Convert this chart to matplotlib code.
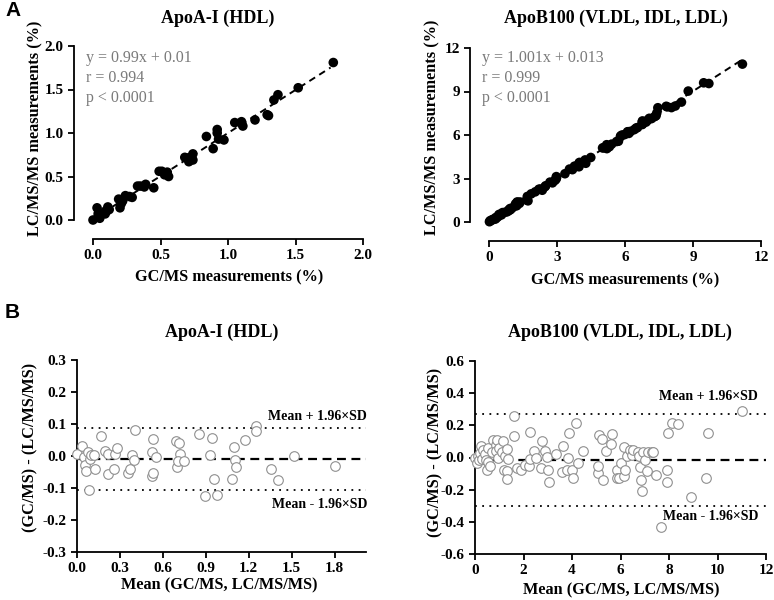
import matplotlib
matplotlib.use("Agg")
import matplotlib.pyplot as plt

plt.rcParams['font.family'] = ['Liberation Serif', 'DejaVu Serif']
plt.rcParams['axes.unicode_minus'] = False

W, H = 774, 600

# ---- Panel A, ApoA-I (HDL): GC/MS vs LC/MS/MS (%)
apoa_gc = [0.00, 0.05, 0.04, 0.04, 0.04, 0.09, 0.03, 0.09, 0.10, 0.12, 0.11, 0.20, 0.21,
           0.19, 0.22, 0.24, 0.27, 0.29, 0.33, 0.35, 0.38, 0.39, 0.45, 0.53, 0.56, 0.49,
           0.51, 0.55, 0.71, 0.68, 0.74, 0.72, 0.70, 0.74, 0.89, 0.84, 0.93, 0.97, 0.92,
           0.92, 1.05, 1.11, 1.10, 1.10, 1.20, 1.30, 1.29, 1.34, 1.37, 1.52, 1.78]
apoa_lc = [0.00, 0.02, 0.05, 0.07, 0.08, 0.07, 0.14, 0.10, 0.10, 0.12, 0.15, 0.14, 0.19,
           0.24, 0.22, 0.28, 0.27, 0.26, 0.39, 0.39, 0.38, 0.41, 0.37, 0.52, 0.50, 0.56,
           0.56, 0.55, 0.67, 0.72, 0.69, 0.72, 0.71, 0.76, 0.82, 0.96, 0.93, 0.92, 1.00,
           1.04, 1.12, 1.08, 1.11, 1.13, 1.15, 1.20, 1.21, 1.38, 1.44, 1.52, 1.81]

# ---- Panel B, ApoA-I: Bland-Altman mean / difference
apoa_mean = [0.00, 0.037, 0.046, 0.056, 0.060, 0.080, 0.086, 0.092, 0.098, 0.122, 0.126,
             0.166, 0.197, 0.215, 0.218, 0.262, 0.269, 0.277, 0.358, 0.367, 0.382, 0.400,
             0.405, 0.521, 0.530, 0.525, 0.533, 0.551, 0.689, 0.699, 0.714, 0.719, 0.705,
             0.751, 0.853, 0.898, 0.927, 0.944, 0.958, 0.982, 1.083, 1.095, 1.106, 1.112,
             1.176, 1.248, 1.250, 1.357, 1.405, 1.519, 1.800]
apoa_diff = [0.006, 0.032, -0.004, -0.028, -0.048, 0.013, -0.105, -0.010, 0.004, 0.003,
             -0.042, 0.062, 0.016, -0.055, 0.005, -0.041, 0.005, 0.026, -0.053, -0.041,
             0.003, -0.012, 0.081, 0.011, 0.052, -0.063, -0.053, -0.004, 0.047, -0.035,
             0.042, 0.005, -0.016, -0.016, 0.070, -0.125, 0.003, 0.057, -0.073, -0.121,
             -0.071, 0.029, -0.013, -0.034, 0.049, 0.095, 0.079, -0.041, -0.075, 0.000,
             -0.032]
apoa_limits = [0.088, -0.009, -0.105]   # upper, mean, lower

# ---- Panel A, ApoB100 (VLDL, IDL, LDL)
apob_gc = [0.02, 0.05, 0.11, 0.15, 0.22, 0.29, 0.30, 0.36, 0.42, 0.43, 0.44, 0.55, 0.54,
           0.60, 0.71, 0.81, 0.89, 0.87, 0.94, 0.93, 1.02, 1.15, 1.22, 1.17, 1.24, 1.34,
           1.27, 1.24, 1.37, 1.72, 1.66, 1.69, 1.86, 2.04, 2.20, 2.35, 2.26, 2.47, 2.50,
           2.69, 2.80, 2.91, 2.96, 2.98, 2.97, 3.35, 3.55, 3.68, 3.77, 3.82, 3.97, 3.97,
           3.99, 4.27, 4.24, 4.49, 5.01, 5.06, 5.20, 5.31, 5.19, 5.41, 5.63, 5.71, 5.80,
           5.81, 5.87, 5.99, 6.17, 6.11, 6.15, 6.25, 6.41, 6.49, 6.55, 6.76, 6.78, 6.77,
           6.76, 6.77, 6.93, 7.00, 7.07, 7.17, 7.31, 7.37, 7.40, 7.45, 7.86, 7.82, 8.05,
           8.22, 8.49, 8.79, 9.47, 9.70, 11.18]
apob_lc = [0.02, 0.09, 0.11, 0.17, 0.19, 0.21, 0.31, 0.32, 0.40, 0.45, 0.52, 0.49, 0.56,
           0.65, 0.67, 0.71, 0.81, 0.83, 0.84, 0.93, 0.96, 1.11, 1.12, 1.25, 1.24, 1.28,
           1.35, 1.38, 1.38, 1.46, 1.52, 1.76, 1.94, 2.08, 2.26, 2.19, 2.27, 2.43, 2.50,
           2.75, 2.70, 2.87, 2.96, 3.06, 3.13, 3.33, 3.65, 3.61, 3.85, 3.82, 3.81, 4.05,
           4.11, 4.05, 4.28, 4.45, 5.11, 5.12, 5.06, 5.19, 5.33, 5.37, 5.55, 5.57, 5.88,
           5.94, 6.00, 6.03, 6.11, 6.22, 6.23, 6.25, 6.37, 6.48, 6.51, 6.72, 6.77, 6.83,
           6.90, 6.97, 6.89, 7.02, 7.15, 7.13, 7.27, 7.33, 7.51, 7.88, 7.94, 7.98, 7.89,
           8.00, 8.27, 9.03, 9.60, 9.55, 10.89]

# ---- Panel B, ApoB100: Bland-Altman mean / difference
apob_mean = [0.02, 0.07, 0.11, 0.16, 0.20, 0.25, 0.30, 0.34, 0.41, 0.44, 0.48, 0.52, 0.55,
             0.62, 0.69, 0.76, 0.85, 0.85, 0.89, 0.93, 0.99, 1.13, 1.17, 1.21, 1.24, 1.31,
             1.31, 1.31, 1.37, 1.59, 1.59, 1.72, 1.90, 2.06, 2.23, 2.27, 2.27, 2.45, 2.50,
             2.72, 2.75, 2.89, 2.96, 3.02, 3.05, 3.34, 3.60, 3.64, 3.81, 3.82, 3.89, 4.01,
             4.05, 4.16, 4.26, 4.47, 5.06, 5.09, 5.13, 5.25, 5.26, 5.39, 5.59, 5.64, 5.84,
             5.87, 5.93, 6.01, 6.14, 6.16, 6.19, 6.25, 6.39, 6.49, 6.53, 6.74, 6.78, 6.80,
             6.83, 6.87, 6.91, 7.01, 7.11, 7.15, 7.29, 7.35, 7.45, 7.67, 7.90, 7.90, 7.97,
             8.11, 8.38, 8.91, 9.53, 9.62, 11.03]
apob_diff = [0.00, -0.037, 0.008, -0.017, 0.03, 0.072, -0.01, 0.046, 0.021, -0.017, -0.075,
             0.056, -0.027, -0.05, 0.035, 0.108, 0.077, 0.039, 0.108, -0.002, 0.056, 0.035,
             0.101, -0.079, 0.008, 0.052, -0.085, -0.135, -0.010, 0.259, 0.135, -0.068,
             -0.079, -0.048, -0.054, 0.159, -0.010, 0.039, 0.000, -0.064, 0.104, 0.039,
             0.004, -0.079, -0.155, 0.021, -0.093, 0.070, -0.079, 0.000, 0.153, -0.075,
             -0.126, 0.215, -0.037, 0.041, -0.099, -0.054, 0.139, 0.118, -0.141, 0.039,
             0.081, 0.149, -0.075, -0.130, -0.130, -0.037, 0.066, -0.114, -0.075, 0.008,
             0.046, 0.014, 0.046, 0.035, 0.008, -0.062, -0.141, -0.209, 0.035, -0.017,
             -0.083, 0.035, 0.035, 0.035, -0.110, -0.431, -0.075, -0.151, 0.153, 0.215,
             0.211, -0.248, -0.126, 0.153, 0.290]
apob_limits = [0.272, -0.014, -0.302]

titles = ["ApoA-I (HDL)", "ApoB100 (VLDL, IDL, LDL)"]
fits = [(0.99, 0.01, "y = 0.99x + 0.01\nr = 0.994\np < 0.0001"),
        (1.001, 0.013, "y = 1.001x + 0.013\nr = 0.999\np < 0.0001")]


def box(l, r, t, b):
    return [l / W, 1 - b / H, (r - l) / W, (b - t) / H]


def ftxt(fig, x, y, s, **kw):
    fig.text(x / W, 1 - y / H, s, **kw)


def style(ax, offset=0):
    for side in ['top', 'right']:
        ax.spines[side].set_visible(False)
    for side in ['left', 'bottom']:
        ax.spines[side].set_linewidth(1.3)
        if offset:
            ax.spines[side].set_position(('outward', offset))
    ax.tick_params(width=1.3, length=4.5, labelsize=11, pad=3)
    for lab in ax.get_xticklabels() + ax.get_yticklabels():
        lab.set_fontweight('bold')


fig = plt.figure(figsize=(W / 100, H / 100), dpi=100)

bold = dict(fontweight='bold', ha='center', va='center')

# ---------- A: correlation plots
specs_a = [
    (box(93, 363, 46, 220), apoa_gc, apoa_lc, 2.0, [0, 0.5, 1.0, 1.5, 2.0], '%.1f', 1.76),
    (box(489, 761, 48, 222), apob_gc, apob_lc, 12, [0, 3, 6, 9, 12], '%d', 11.2),
]
for i, (pos, xs, ys, lim, ticks, fmt, xend) in enumerate(specs_a):
    ax = fig.add_axes(pos)
    ax.set_xlim(0, lim)
    ax.set_ylim(0, lim)
    slope, icpt, stats = fits[i]
    ax.plot([0, xend], [icpt, slope * xend + icpt], color='black', lw=1.4,
            ls=(0, (3.5, 2.5)), zorder=2)
    ax.scatter(xs, ys, s=48, color='black', edgecolors='none', zorder=3, clip_on=False)
    ax.set_xticks(ticks)
    ax.set_yticks(ticks)
    ax.xaxis.set_major_formatter(matplotlib.ticker.FormatStrFormatter(fmt))
    ax.yaxis.set_major_formatter(matplotlib.ticker.FormatStrFormatter(fmt))
    ax.spines['left'].set_bounds(0, lim)
    ax.spines['bottom'].set_bounds(0, lim)
    style(ax, offset=13.5)

ftxt(fig, 218, 18, titles[0], fontsize=13, **bold)
ftxt(fig, 616, 18, titles[1], fontsize=13, **bold)
ftxt(fig, 229, 277, "GC/MS measurements (%)", fontsize=11.7, **bold)
ftxt(fig, 625, 280, "GC/MS measurements (%)", fontsize=11.7, **bold)
ftxt(fig, 35, 128, "LC/MS/MS measurements (%)", fontsize=11.7, rotation=90, **bold)
ftxt(fig, 432, 127, "LC/MS/MS measurements (%)", fontsize=11.7, rotation=90, **bold)
ftxt(fig, 86, 78, fits[0][2], fontsize=11.5, color='#7a7a7a', va='center', ha='left',
     linespacing=1.35)
ftxt(fig, 482, 78, fits[1][2], fontsize=11.5, color='#7a7a7a', va='center', ha='left',
     linespacing=1.35)

# ---------- B: Bland-Altman plots
specs_b = [
    (box(77, 366, 360, 552), apoa_mean, apoa_diff, apoa_limits, (0, 2.02), (-0.3, 0.3),
     [0, 0.3, 0.6, 0.9, 1.2, 1.5, 1.8], [-0.3, -0.2, -0.1, 0, 0.1, 0.2, 0.3], '%.1f'),
    (box(475, 766, 361, 554), apob_mean, apob_diff, apob_limits, (0, 12), (-0.6, 0.6),
     [0, 2, 4, 6, 8, 10, 12], [-0.6, -0.4, -0.2, 0, 0.2, 0.4, 0.6], '%d'),
]
for i, (pos, xs, ys, lims, xl, yl, xt, yt, xfmt) in enumerate(specs_b):
    ax = fig.add_axes(pos)
    ax.set_xlim(*xl)
    ax.set_ylim(*yl)
    up, mean, lo = lims
    ax.plot(xl, [up, up], color='black', lw=1.3, ls=(0, (1, 3)), zorder=2)
    ax.plot(xl, [lo, lo], color='black', lw=1.3, ls=(0, (1, 3)), zorder=2)
    ax.plot(xl, [mean, mean], color='black', lw=1.6, ls=(0, (4, 2.5)), zorder=2)
    ax.scatter(xs, ys, s=48, facecolors='white', edgecolors='#8f8f8f', linewidths=0.8,
               zorder=3, clip_on=False)
    ax.set_xticks(xt)
    ax.set_yticks(yt)
    ax.xaxis.set_major_formatter(matplotlib.ticker.FormatStrFormatter(xfmt))
    ax.yaxis.set_major_formatter(matplotlib.ticker.FormatStrFormatter('%.1f'))
    style(ax)

ftxt(fig, 222, 332, titles[0], fontsize=13, **bold)
ftxt(fig, 620, 332, titles[1], fontsize=13, **bold)
ftxt(fig, 219, 585, "Mean (GC/MS, LC/MS/MS)", fontsize=11.7, **bold)
ftxt(fig, 621, 590, "Mean (GC/MS, LC/MS/MS)", fontsize=11.7, **bold)
ftxt(fig, 30, 447, "(GC/MS) - (LC/MS/MS)", fontsize=11.7, rotation=90, **bold)
ftxt(fig, 435, 452, "(GC/MS) - (LC/MS/MS)", fontsize=11.7, rotation=90, **bold)
small = dict(fontsize=10, fontweight='bold', ha='right', va='center')
ftxt(fig, 367, 417, "Mean + 1.96\u00d7SD", **small)
ftxt(fig, 367, 504, "Mean - 1.96\u00d7SD", **small)
ftxt(fig, 758, 397, "Mean + 1.96\u00d7SD", **small)
ftxt(fig, 758, 517, "Mean - 1.96\u00d7SD", **small)

# panel letters
ftxt(fig, 5, 10, "A", fontsize=15, fontweight='bold', family='Liberation Sans',
     ha='left', va='center')
ftxt(fig, 5, 312, "B", fontsize=15, fontweight='bold', family='Liberation Sans',
     ha='left', va='center')

fig.savefig("out.png", dpi=100)
